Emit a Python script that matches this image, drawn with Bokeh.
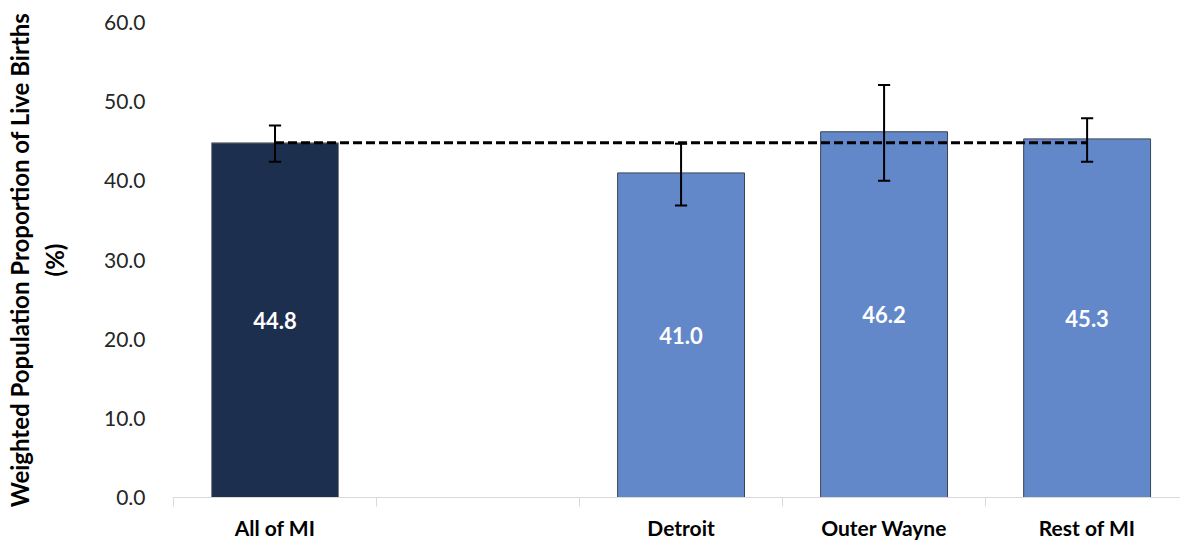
from bokeh.plotting import figure
from bokeh.models import ColumnDataSource, Range1d, FixedTicker, NumeralTickFormatter
from bokeh.core.properties import value
from bokeh.embed import file_html
from bokeh.resources import INLINE

# ---- data ----
categories = ["All of MI", "", "Detroit", "Outer Wayne", "Rest of MI"]
values = [44.8, None, 41.0, 46.2, 45.3]
lower = [42.4, None, 36.9, 40.0, 42.4]
upper = [47.0, None, 44.7, 52.1, 47.9]
bar_colors = ["#1D2F4F", None, "#6288C9", "#6288C9", "#6288C9"]
outline_colors = ["#7F7F7F", None, "#3A4556", "#3A4556", "#3A4556"]
reference_value = 44.8  # All of MI
y_ticks = [0, 10, 20, 30, 40, 50, 60]
y_title = "Weighted Population Proportion of Live Births\n(%)"

FONT = "Lato"
CAP = 0.03  # half width of whisker caps (category units)

idx = [i for i, v in enumerate(values) if v is not None]
src = ColumnDataSource(dict(
    x=[i + 0.5 for i in idx],
    x0=[i + 0.5 - CAP for i in idx],
    x1=[i + 0.5 + CAP for i in idx],
    top=[values[i] for i in idx],
    mid=[values[i] / 2 for i in idx],
    lo=[lower[i] for i in idx],
    hi=[upper[i] for i in idx],
    color=[bar_colors[i] for i in idx],
    lcolor=[outline_colors[i] for i in idx],
    label=["%.1f" % values[i] for i in idx],
))

p = figure(width=1180, height=542, output_backend="svg", toolbar_location=None,
           x_range=Range1d(0, 4.96), y_range=Range1d(0, 60),
           min_border_left=173, min_border_right=0, min_border_top=22,
           min_border_bottom=43)
p.outline_line_color = None
p.xgrid.visible = False
p.ygrid.visible = False
p.background_fill_color = "white"
p.border_fill_color = "white"

# bars
p.vbar(x="x", top="top", bottom=0, width=0.625, source=src,
       fill_color="color", line_color="lcolor", line_width=1)

# reference dashed line across the categories
first_x = idx[0] + 0.5
last_x = idx[-1] + 0.5
p.line(x=[first_x, last_x], y=[reference_value, reference_value],
       line_color="black", line_width=3, line_dash="9 4")

# error bars
p.segment(x0="x", y0="lo", x1="x", y1="hi", source=src, line_color="black", line_width=2)
p.segment(x0="x0", y0="hi", x1="x1", y1="hi", source=src, line_color="black", line_width=2)
p.segment(x0="x0", y0="lo", x1="x1", y1="lo", source=src, line_color="black", line_width=2)

# value labels
p.text(x="x", y="mid", text="label", source=src, text_color="white",
       text_font=value(FONT), text_font_style="bold", text_font_size="22px",
       text_align="center", text_baseline="middle")

# x axis
xa = p.xaxis[0]
xa.ticker = FixedTicker(ticks=[i + 0.5 for i in idx],
                        minor_ticks=list(range(len(categories) + 1)))
xa.major_label_overrides = {i + 0.5: categories[i] for i in idx}
xa.major_tick_line_color = None
xa.minor_tick_line_color = "#D9D9D9"
xa.minor_tick_line_width = 1
xa.minor_tick_in = 0
xa.minor_tick_out = 9
xa.axis_line_color = "#D9D9D9"
xa.axis_line_width = 1
xa.major_label_text_font = FONT
xa.major_label_text_font_style = "bold"
xa.major_label_text_font_size = "21px"
xa.major_label_text_color = "black"
xa.major_label_standoff = 8

# y axis
ya = p.yaxis[0]
ya.ticker = FixedTicker(ticks=y_ticks)
ya.formatter = NumeralTickFormatter(format="0.0")
ya.axis_line_color = None
ya.major_tick_line_color = None
ya.minor_tick_line_color = None
ya.major_label_text_font = FONT
ya.major_label_text_font_size = "21px"
ya.major_label_text_color = "#262626"
ya.major_label_standoff = 22
ya.axis_label = y_title
ya.axis_label_text_font = FONT
ya.axis_label_text_font_style = "bold"
ya.axis_label_text_font_size = "24px"
ya.axis_label_text_color = "black"
ya.axis_label_standoff = 32

open("out.html", "w").write(file_html(p, INLINE))
